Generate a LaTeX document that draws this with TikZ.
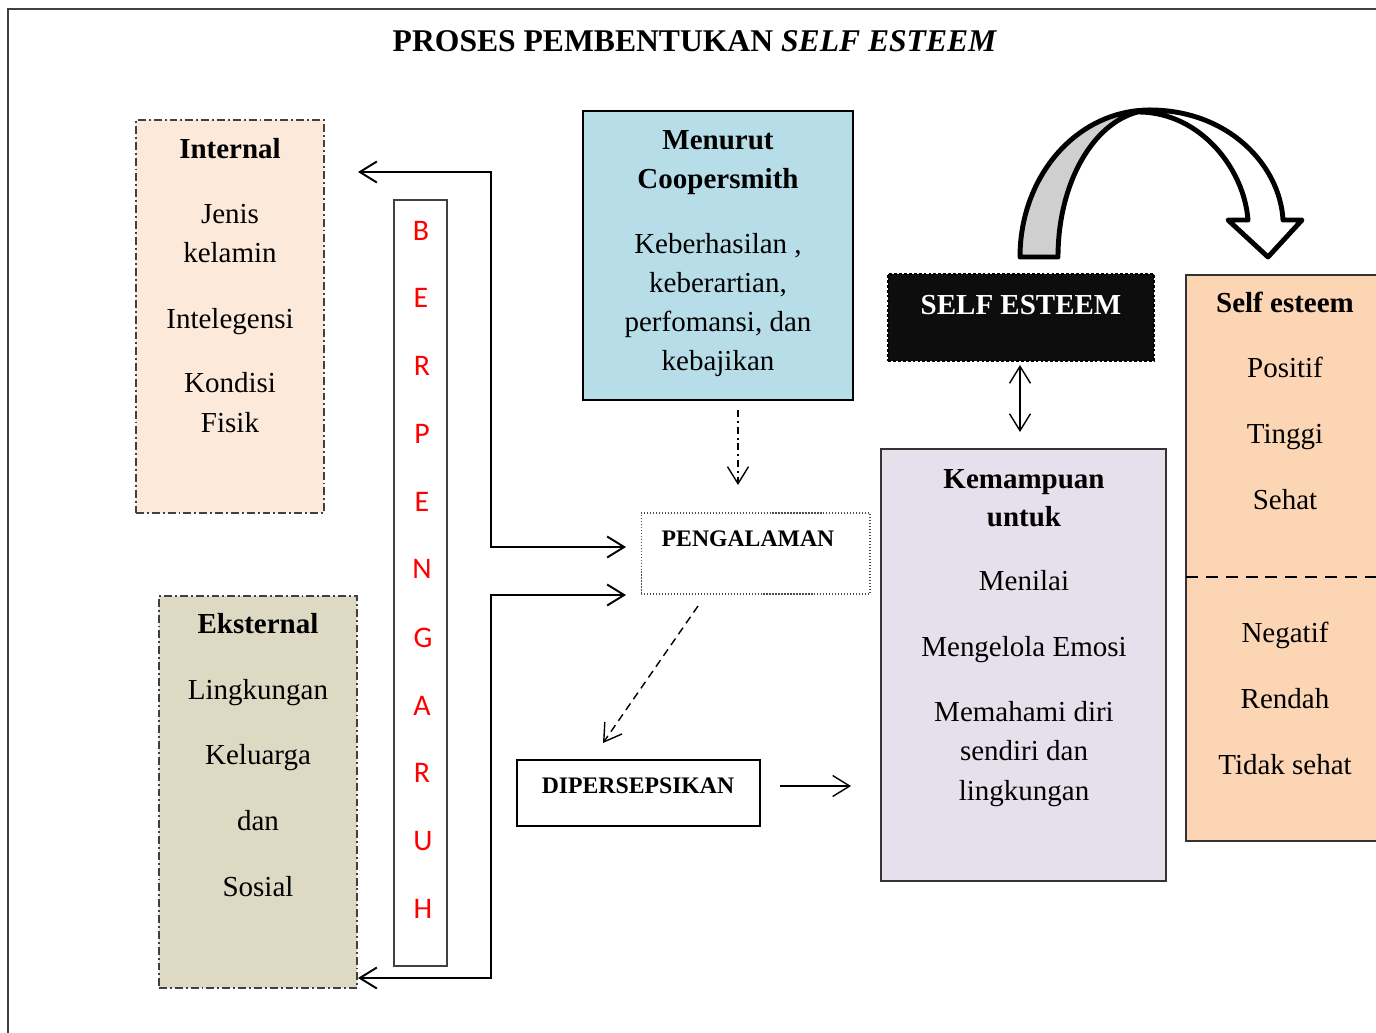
\documentclass[tikz,border=0pt]{standalone}
\usepackage{fontspec}
\setmainfont{Liberation Serif}
\newfontfamily\calib{Carlito}
\usetikzlibrary{arrows.meta}
\definecolor{cInt}{HTML}{FDE9D9}
\definecolor{cExt}{HTML}{DDD9C3}
\definecolor{cCoop}{HTML}{B7DEE8}
\definecolor{cKem}{HTML}{E5E0EC}
\definecolor{cSes}{HTML}{FCD5B5}
\definecolor{cBlk}{HTML}{0D0D0D}
\definecolor{cGray}{HTML}{CFCFCF}
\begin{document}
\begin{tikzpicture}[x=0.02cm,y=-0.02cm,
  box/.style={inner sep=0pt, outer sep=0pt, line width=0.7pt},
  dd/.style={draw=black!75, dash pattern=on 4.5pt off 1.7pt on 1.1pt off 1.7pt},
  t/.style={inner sep=0pt, anchor=base, font=\fontsize{16.5}{20}\selectfont},
  tb/.style={inner sep=0pt, anchor=base, font=\fontsize{16.5}{20}\selectfont\bfseries},
  ts/.style={inner sep=0pt, anchor=base, font=\fontsize{13.5}{16}\selectfont\bfseries},
  tl/.style={inner sep=0pt, anchor=base, font=\calib\fontsize{17}{20}\selectfont, text=red},
  >={Straight Barb[length=0.34cm,width=0.42cm]}
]
\useasboundingbox (0,0) rectangle (1376,1032);
\fill[white] (0,0) rectangle (1376,1032);
% frame
\draw[line width=0.9pt, black!75] (1400,9) -- (8,9) -- (8,1050);

% title
\node[inner sep=0pt, anchor=base, font=\fontsize{18}{22}\selectfont\bfseries] (title) at (695,51) {PROSES PEMBENTUKAN \textit{SELF ESTEEM}};

% boxes
\node[box, dd, fill=cInt, minimum width=3.76cm, minimum height=7.86cm] (int) at (230,316.5) {};
\node[box, dd, fill=cExt, minimum width=3.96cm, minimum height=7.84cm] (ext) at (258,792) {};
\node[box, draw=black!75, minimum width=1.06cm, minimum height=15.32cm] (ber) at (420.5,583) {};
\node[box, draw=black, fill=cCoop, minimum width=5.4cm, minimum height=5.78cm] (coop) at (718,255.5) {};
\node[box, draw=black!70, densely dotted, line width=0.6pt, minimum width=4.58cm, minimum height=1.62cm] (peng) at (755.5,553.5) {};
\node[box, draw=black, minimum width=4.86cm, minimum height=1.32cm] (dip) at (638.5,793) {};
\node[box, fill=cBlk, draw=black, line width=1.6pt, dash pattern=on 1.6pt off 1.2pt, minimum width=5.32cm, minimum height=1.74cm] (se) at (1021,317.5) {};
\node[box, draw=black!80, fill=cKem, minimum width=5.7cm, minimum height=8.64cm] (kem) at (1023.5,665) {};
\node[box, draw=black!80, fill=cSes, minimum width=4.28cm, minimum height=11.32cm] (ses) at (1293,558) {};
\draw[line width=1.2pt, dash pattern=on 6.8pt off 4.5pt] (ses.west |- 0,577) coordinate (sdl) -- (ses.east |- 0,577) coordinate (sdr);

% Internal texts
\node[tb] (i0) at (230,158) {Internal};
\node[t] (i1) at (230,223) {Jenis};
\node[t] (i2) at (230,262) {kelamin};
\node[t] (i3) at (230,328) {Intelegensi};
\node[t] (i4) at (230,392) {Kondisi};
\node[t] (i5) at (230,432) {Fisik};

% Eksternal texts
\node[tb] (e0) at (258,633) {Eksternal};
\node[t] (e1) at (258,699) {Lingkungan};
\node[t] (e2) at (258,764) {Keluarga};
\node[t] (e3) at (258,830) {dan};
\node[t] (e4) at (258,896) {Sosial};

% BERPENGARUH letters
\node[tl] (b1) at (421,240) {B};
\node[tl] (b2) at (421,307) {E};
\node[tl] (b3) at (422,375) {R};
\node[tl] (b4) at (422,443) {P};
\node[tl] (b5) at (422,511) {E};
\node[tl] (b6) at (422,578) {N};
\node[tl] (b7) at (423,647) {G};
\node[tl] (b8) at (422,715) {A};
\node[tl] (b9) at (422,782) {R};
\node[tl] (b10) at (423,850) {U};
\node[tl] (b11) at (423,918) {H};

% Coopersmith texts
\node[tb] (c0) at (718,149) {Menurut};
\node[tb] (c1) at (718,188) {Coopersmith};
\node[t] (c2) at (718,253) {Keberhasilan ,};
\node[t] (c3) at (718,292) {keberartian,};
\node[t] (c4) at (718,331) {perfomansi, dan};
\node[t] (c5) at (718,370) {kebajikan};

% small boxes texts
\node[ts] (pt) at (748,546) {PENGALAMAN};
\node[ts] (dt) at (638,793) {DIPERSEPSIKAN};
\node[tb, text=white] (st) at (1021,314) {SELF ESTEEM};

% Kemampuan texts
\node[tb] (k0) at (1024,488) {Kemampuan};
\node[tb] (k1) at (1024,526) {untuk};
\node[t] (k2) at (1024,590) {Menilai};
\node[t] (k3) at (1024,656) {Mengelola Emosi};
\node[t] (k4) at (1024,721) {Memahami diri};
\node[t] (k5) at (1024,760) {sendiri dan};
\node[t] (k6) at (1024,800) {lingkungan};

% Self esteem texts
\node[tb] (s0) at (1285,312) {Self esteem};
\node[t] (s1) at (1285,377) {Positif};
\node[t] (s2) at (1285,443) {Tinggi};
\node[t] (s3) at (1285,509) {Sehat};
\node[t] (s4) at (1285,642) {Negatif};
\node[t] (s5) at (1285,708) {Rendah};
\node[t] (s6) at (1285,774) {Tidak sehat};

% bracket connectors
\coordinate (tInt) at (358,172);
\coordinate (tPeng1) at (626,547);
\coordinate (tExt) at (358,978);
\coordinate (tPeng2) at (626,595);
\draw[line width=1.1pt, <->] (tInt) -- (491,172) -- (491,547) -- (tPeng1);
\draw[line width=1.1pt, <->] (tExt) -- (491,978) -- (491,595) -- (tPeng2);

% coop -> peng
\coordinate (cpS) at (738,410);
\coordinate (cpE) at (738,485);
\draw[line width=0.8pt, ->, dash pattern=on 4pt off 2.2pt on 1.1pt off 2.2pt] (cpS) -- (cpE);
% peng -> dip
\coordinate (pdS) at (698,606);
\coordinate (pdE) at (603,743);
\draw[line width=0.8pt, ->, dash pattern=on 4.5pt off 3pt] (pdS) -- (pdE);
% dip -> kem
\coordinate (dkS) at (780,786);
\coordinate (dkE) at (851,786);
\draw[line width=0.8pt, ->] (dkS) -- (dkE);
% se <-> kem
\coordinate (skS) at (1020,365);
\coordinate (skE) at (1020,432);
\draw[line width=0.8pt, <->] (skS) -- (skE);

% curved block arrow
\draw[line width=2.8pt, line join=round, fill=white]
  (1150,110) .. controls (1228,110) and (1280,165) .. (1283,220)
  -- (1302,220) -- (1268,257) -- (1228,220) -- (1248,220)
  .. controls (1244,168) and (1200,113) .. (1140,112) -- cycle;
\draw[line width=2.8pt, line join=round, fill=cGray]
  (1020,257) .. controls (1020,176) and (1077,110) .. (1150,110)
  .. controls (1099,113) and (1058,177) .. (1058,257) -- cycle;
\end{tikzpicture}
\end{document}
